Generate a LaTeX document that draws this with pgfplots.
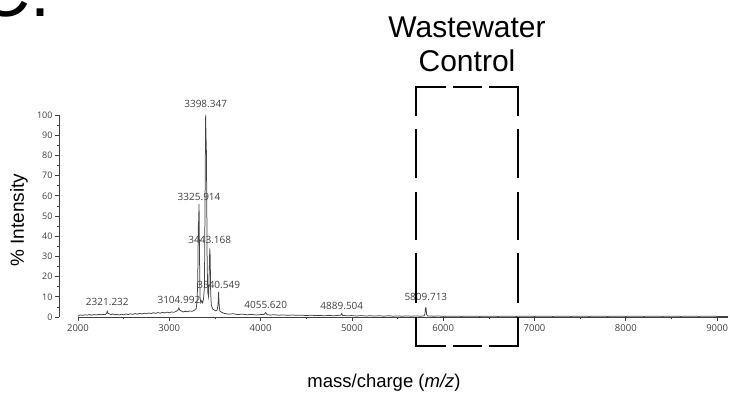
\documentclass[border=0pt]{standalone}
\usepackage{fontspec}
\setmainfont{Liberation Sans}
\newfontfamily\seg{Open Sans}
\usepackage{pgfplots}
\pgfplotsset{compat=1.18}
\definecolor{tickgray}{HTML}{404040}
\definecolor{specgray}{HTML}{444444}
\begin{document}
\begin{tikzpicture}
\useasboundingbox (0,0) rectangle (730pt,395pt);
\begin{axis}[
  at={(59pt,78pt)}, anchor=south west,
  scale only axis, width=669pt, height=202pt,
  xmin=1792, xmax=9119, ymin=0, ymax=100,
  axis lines*=left,
  x axis line style={draw=none},
  y axis line style={color=tickgray, line width=0.8pt},
  clip=false,
  xtick={2000,3000,...,9000},
  minor xtick={2500,3500,...,8500},
  ytick={0,10,...,100},
  minor ytick={5,15,...,95},
  tick align=outside,
  major tick length=4pt, minor tick length=2.5pt,
  every tick/.style={color=tickgray, line width=0.7pt},
  scaled ticks=false,
  /pgf/number format/assume math mode=true,
  /pgf/number format/1000 sep={},
  x tick label style={font=\seg\fontsize{9.5}{10}\selectfont, color=tickgray},
  y tick label style={font=\seg\fontsize{9}{10}\selectfont, color=tickgray, xshift=1pt},
]
\draw[tickgray, line width=0.9pt] (axis cs:2000,0) -- (axis cs:9119,0);
\addplot[color=specgray, line width=0.75pt] table {
x y
2000 0.3
2010 0.8
2030 1.0
2050 0.8
2075 1.1
2100 0.9
2125 1.2
2150 0.9
2175 1.2
2200 1.0
2225 1.3
2250 1.1
2275 1.3
2300 1.2
2313 1.8
2321 2.9
2329 1.8
2340 1.6
2360 1.2
2380 1.5
2400 1.1
2425 1.3
2450 1.0
2475 1.4
2500 1.1
2525 1.5
2550 1.2
2575 1.6
2600 1.3
2625 1.7
2650 1.4
2675 1.8
2700 1.5
2725 1.9
2750 1.6
2775 2.0
2800 1.7
2825 2.1
2850 1.8
2875 2.2
2900 1.9
2925 2.3
2950 2.0
2975 2.4
3000 2.1
3025 2.5
3050 2.3
3075 2.8
3095 3.4
3105 4.5
3115 3.4
3130 3.0
3150 2.5
3175 2.8
3200 2.6
3225 3.0
3250 2.8
3275 3.4
3295 4.3
3305 8
3312 20
3318 45
3322 48
3326 56
3331 30
3336 10
3345 7
3355 8
3365 7
3375 9
3385 15
3392 60
3398 100
3402 90
3406 83
3410 60
3415 25
3422 12
3430 10
3437 22
3443 34
3448 30
3453 12
3460 6
3475 4
3490 3.5
3510 3
3525 3.5
3533 6
3540 12.4
3546 6
3553 3
3570 2.4
3600 1.8
3650 1.4
3700 1.6
3750 1.2
3800 1.4
3850 1.1
3900 1.3
3950 1.0
4000 1.2
4040 1.3
4055 2.2
4070 1.2
4100 1.0
4150 1.1
4200 0.9
4250 1.0
4300 0.8
4350 1.0
4400 0.8
4450 0.9
4500 0.7
4550 0.9
4600 0.7
4650 0.8
4700 0.6
4750 0.8
4800 0.6
4850 0.8
4880 0.9
4889 1.8
4898 0.8
4950 0.6
5000 0.7
5050 0.5
5100 0.7
5150 0.5
5200 0.6
5250 0.5
5300 0.6
5350 0.4
5400 0.6
5450 0.4
5500 0.5
5550 0.4
5600 0.5
5650 0.4
5700 0.5
5750 0.4
5790 0.5
5800 1.5
5806 4.6
5812 4.6
5818 1.2
5830 0.5
5900 0.4
5950 0.5
6000 0.3
6100 0.4
6200 0.3
6300 0.4
6400 0.3
6500 0.4
6600 0.3
6700 0.4
6800 0.3
6900 0.4
7000 0.3
7100 0.4
7200 0.3
7300 0.4
7400 0.3
7500 0.4
7600 0.3
7700 0.4
7800 0.3
7900 0.4
8000 0.3
8100 0.4
8200 0.3
8300 0.4
8400 0.3
8500 0.4
8600 0.3
8700 0.4
8800 0.3
8900 0.4
9000 0.3
9119 0.3
};
\addplot[draw=none, forget plot, nodes near coords, point meta=explicit symbolic,
  every node near coord/.append style={anchor=center, inner sep=0pt,
    font=\seg\fontsize{10}{11}\selectfont, color=tickgray}]
  table[meta=label] {
x y label
3398.347 105.4 3398.347
3325.914 59.4 3325.914
3443.168 38.0 3443.168
3540.549 15.8 3540.549
2321.232 7.4 2321.232
3104.992 8.4 3104.992
4055.620 5.9 4055.620
4889.504 5.4 4889.504
5809.713 9.9 5809.713
};
\end{axis}
\begin{scope}[shift={(0,395pt)}, x=1pt, y=-1pt]
\node[anchor=base west, inner sep=0pt, font=\fontsize{72}{72}\selectfont] at (-22,17) {C.};
\node[anchor=base, inner sep=0pt, font=\fontsize{30}{34}\selectfont] at (467,38) {Wastewater};
\node[anchor=base, inner sep=0pt, font=\fontsize{30}{34}\selectfont] at (467,72) {Control};
\node[rotate=90, inner sep=0pt, font=\fontsize{19}{22}\selectfont] at (19,220) {\% Intensity};
\node[anchor=base, inner sep=0pt, font=\fontsize{18.5}{22}\selectfont] at (384,388) {mass/charge (\textit{m/z})};
\begin{scope}[line width=2.5pt, black]
\draw (446,87) -- (416,87) -- (416,116);
\draw (453,87) -- (482,87);
\draw (489,87) -- (518,87) -- (518,116);
\draw (416,129) -- (416,178);
\draw (416,192) -- (416,240);
\draw (416,253) -- (416,303);
\draw (518,129) -- (518,178);
\draw (518,192) -- (518,240);
\draw (518,253) -- (518,303);
\draw (416,317) -- (416,346) -- (446,346);
\draw (453,346) -- (482,346);
\draw (489,346) -- (518,346) -- (518,317);
\end{scope}
\end{scope}
\end{tikzpicture}
\end{document}
